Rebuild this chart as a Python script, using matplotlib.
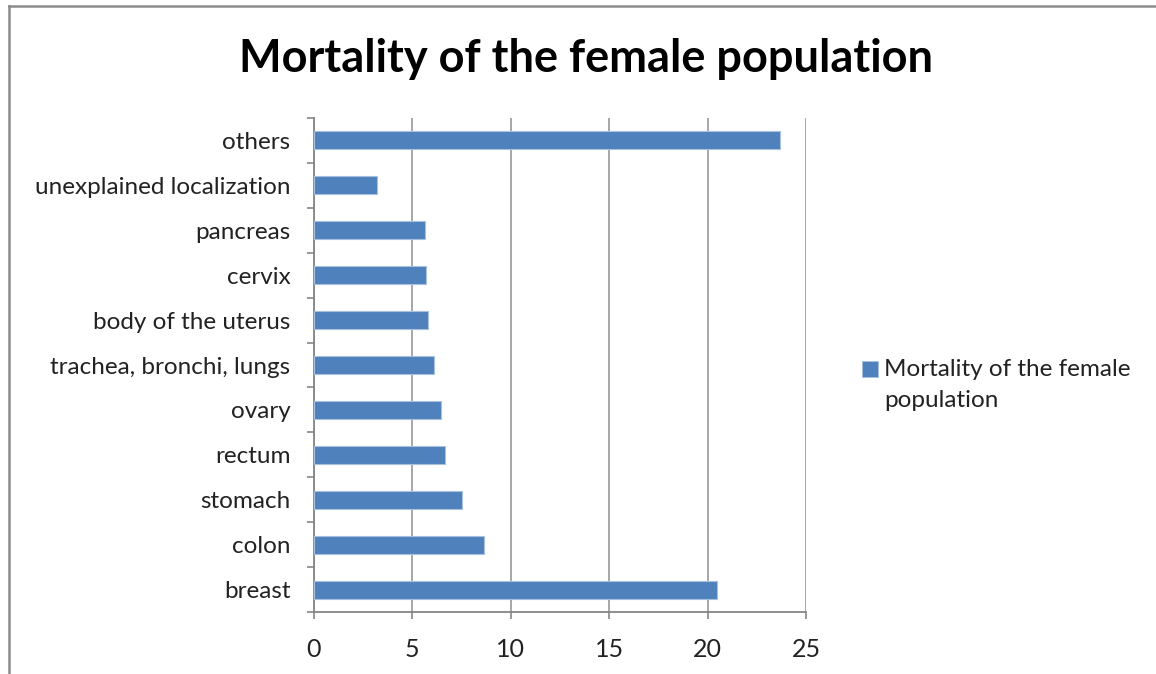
import matplotlib.pyplot as plt
from matplotlib.lines import Line2D
from matplotlib.patches import Rectangle

plt.rcParams['font.family'] = ['Lato', 'DejaVu Sans']

categories = ["breast", "colon", "stomach", "rectum", "ovary",
              "trachea, bronchi, lungs", "body of the uterus", "cervix",
              "pancreas", "unexplained localization", "others"]
values = [20.49, 8.64, 7.52, 6.67, 6.47, 6.08, 5.81, 5.69, 5.62, 3.22, 23.68]
series_name = "Mortality of the female population"
x_ticks = [0, 5, 10, 15, 20, 25]

bar_color = "#4F81BD"
axis_gray = "#868686"
grid_gray = "#A0A0A0"

fig = plt.figure(figsize=(11.56, 6.74), dpi=100)
ax = fig.add_axes([0.2716, 0.092, 0.4256, 0.7329])

pos = list(range(len(categories)))
ax.barh(pos, values, height=0.4, color=bar_color, edgecolor="#A9C1E0",
        linewidth=0.8, zorder=3)

ax.set_xlim(0, 25)
ax.set_ylim(-0.5, len(categories) - 0.5)
ax.set_xticks(x_ticks)
ax.set_xticklabels([str(t) for t in x_ticks], fontsize=18, color="#222222")
ax.set_yticks(pos)
ax.set_yticklabels(categories, fontsize=17.5, color="#222222")
ax.set_yticks([p - 0.5 for p in range(len(categories) + 1)], minor=True)

ax.tick_params(axis="y", which="major", length=0, pad=17)
ax.tick_params(axis="y", which="minor", length=5, color=axis_gray, width=1.2)
ax.tick_params(axis="x", which="major", length=5, color=axis_gray, width=1.2, pad=14)

ax.grid(axis="x", color=grid_gray, linewidth=1.3, zorder=0)
for s in ["top", "right"]:
    ax.spines[s].set_visible(False)
for s in ["left", "bottom"]:
    ax.spines[s].set_color(axis_gray)
    ax.spines[s].set_linewidth(1.3)

fig.text(0.507, 0.912, series_name, ha="center",
         va="center", fontsize=32.5, fontweight="bold", color="black")

# legend
fig.patches.append(Rectangle((862 / 1156, 1 - 377 / 674), 16 / 1156, 16 / 674,
                             transform=fig.transFigure, facecolor=bar_color,
                             edgecolor="#A9C1E0", linewidth=0.6))
fig.text(884 / 1156, 1 - 369 / 674, "Mortality of the female", fontsize=17.5,
         va="center", ha="left", color="#222222")
fig.text(884 / 1156, 1 - 401 / 674, "population", fontsize=17.5,
         va="center", ha="left", color="#222222")

# chart border
fig.add_artist(Line2D([9 / 1156, 9 / 1156], [0, 1 - 6 / 674],
                      transform=fig.transFigure, color="#8C8C8C", linewidth=1.8))
fig.add_artist(Line2D([9 / 1156, 1], [1 - 6 / 674, 1 - 6 / 674],
                      transform=fig.transFigure, color="#8C8C8C", linewidth=1.8))

fig.savefig("out.png", dpi=100, facecolor="white")
